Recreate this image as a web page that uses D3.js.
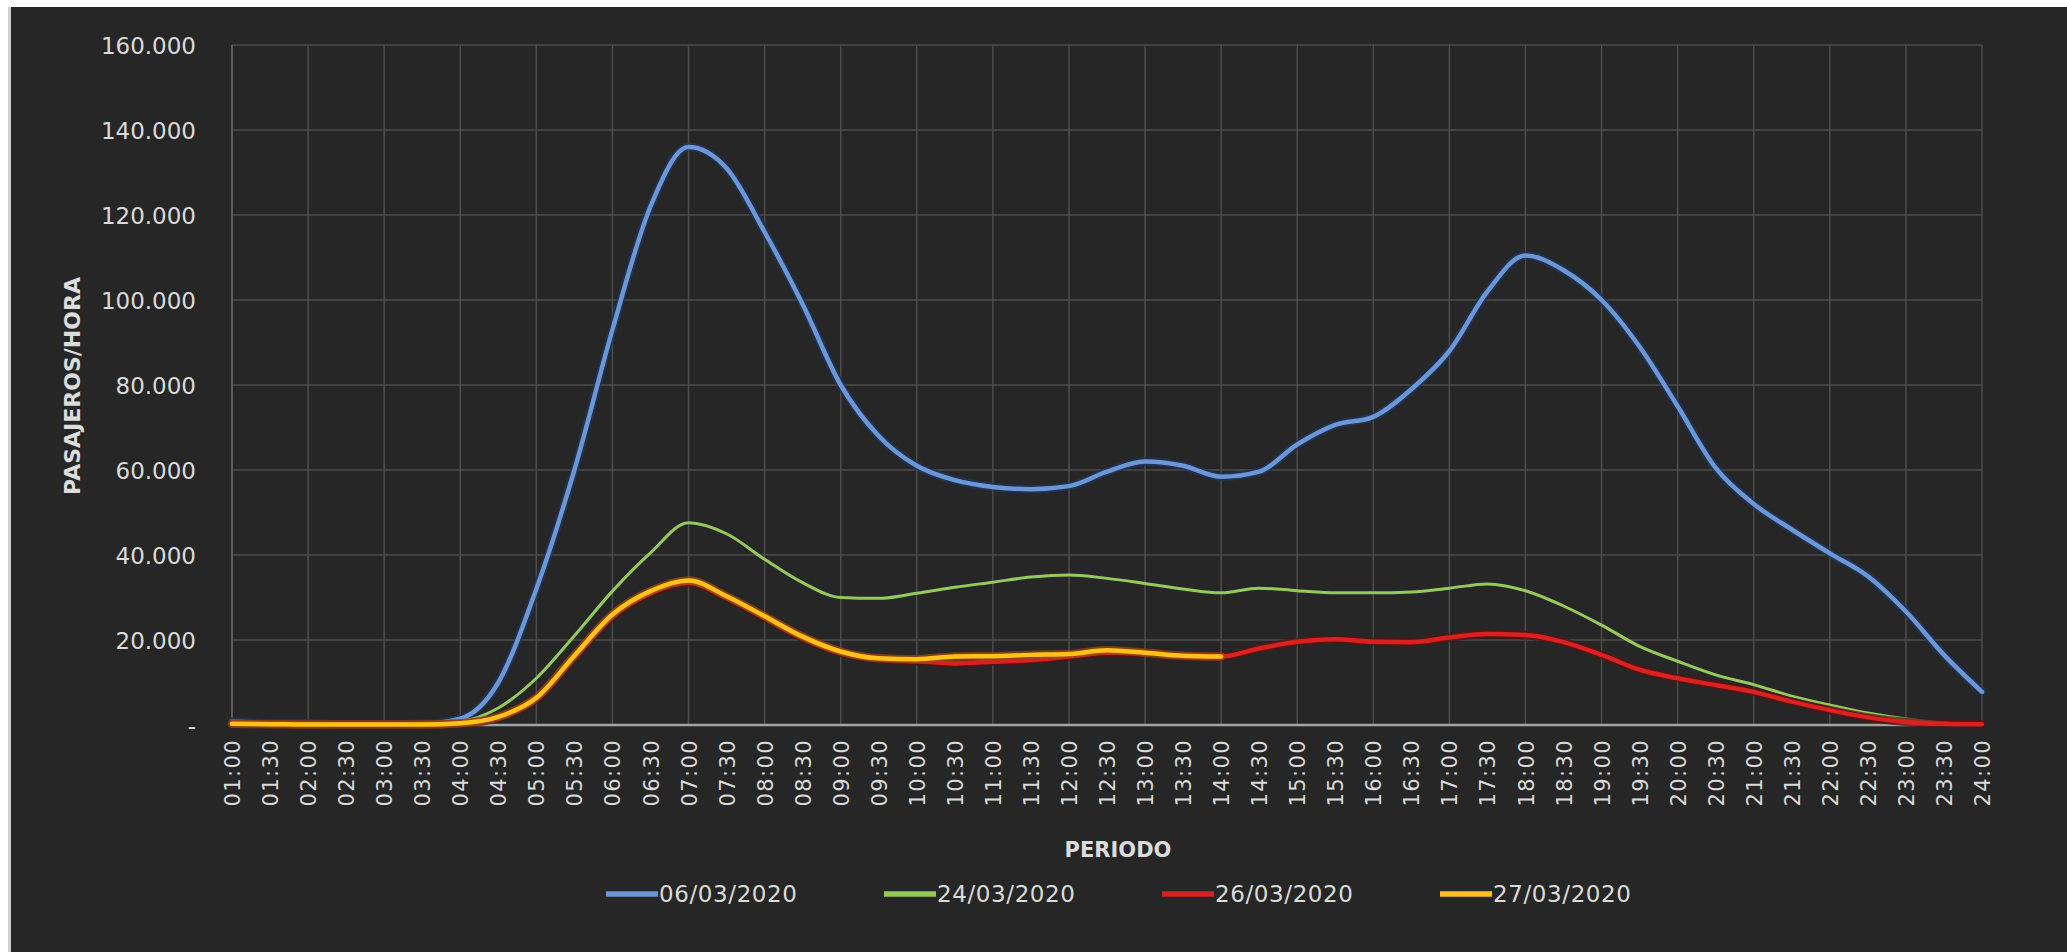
<!DOCTYPE html>
<html>
<head>
<meta charset="utf-8">
<script src="https://cdn.jsdelivr.net/npm/d3@7/dist/d3.min.js"></script>
<style>
  html, body { margin: 0; padding: 0; background: #ffffff; }
  svg { display: block; }
</style>
</head>
<body>
<svg id="chart" width="2067" height="952"></svg>
<script>
// Half-hour periods of the day
const periodos = [
  "01:00","01:30","02:00","02:30","03:00","03:30","04:00","04:30",
  "05:00","05:30","06:00","06:30","07:00","07:30","08:00","08:30",
  "09:00","09:30","10:00","10:30","11:00","11:30","12:00","12:30",
  "13:00","13:30","14:00","14:30","15:00","15:30","16:00","16:30",
  "17:00","17:30","18:00","18:30","19:00","19:30","20:00","20:30",
  "21:00","21:30","22:00","22:30","23:00","23:30","24:00"
];

// Passengers per hour for each day
const pax06_03 = [
  800, 500, 400, 200, 200, 300, 1500, 10000,
  32000, 60000, 93000, 122000, 136000, 131000, 116000, 99000,
  80000, 68000, 61000, 57600, 56000, 55500, 56200, 59600,
  62000, 61000, 58400, 59600, 66000, 70600, 72500, 79000,
  88000, 102000, 110500, 107000, 100000, 89000, 75000, 60500,
  52000, 46000, 40400, 35000, 26700, 16500, 7800
];
const pax24_03 = [
  500, 300, 200, 100, 100, 200, 800, 4000,
  11000, 21000, 31500, 40500, 47600, 45000, 39000, 33500,
  30000, 29800, 31000, 32400, 33600, 34800, 35300, 34500,
  33300, 32000, 31100, 32200, 31600, 31100, 31100, 31300,
  32200, 33200, 31600, 28000, 23500, 18500, 15000, 11800,
  9500, 6800, 4700, 2800, 1400, 500, 200
];
const pax26_03 = [
  300, 200, 100, 100, 100, 100, 300, 1800,
  6200, 16000, 25500, 31000, 33500, 30000, 25300, 20500,
  17000, 15500, 15000, 14500, 14900, 15300, 16100, 17000,
  17000, 16200, 16100, 18000, 19600, 20200, 19600, 19500,
  20600, 21400, 21200, 19500, 16500, 13000, 11000, 9400,
  7800, 5500, 3500, 1800, 700, 300, 200
];
const pax27_03 = [
  300, 200, 100, 100, 100, 100, 400, 1900,
  6400, 16300, 26000, 31500, 34000, 30300, 25600, 20800,
  17300, 15700, 15500, 16100, 16200, 16500, 16700, 17600,
  17000, 16300, 16100
];

const yTicks = [0, 20000, 40000, 60000, 80000, 100000, 120000, 140000, 160000];

const seriesNames = ["06/03/2020", "24/03/2020", "26/03/2020", "27/03/2020"];
const seriesValues = [pax06_03, pax24_03, pax26_03, pax27_03];
const seriesColors = ["#6c96d5", "#96c95c", "#d92121", "#ffc21c"];
const seriesHalo = ["#1d3659", null, "#5c1010", "#9a4a08"];
const seriesWidths = [4.5, 3, 4.5, 4.5];

const svg = d3.select("#chart");
const W = 2067, H = 952;
const plot = { left: 232, right: 1982, top: 45, bottom: 725 };

// Dark chart area with thin white/grey page edge on top and left
svg.append("rect").attr("x", 0).attr("y", 0).attr("width", W).attr("height", H).attr("fill", "#ffffff");
svg.append("rect").attr("x", 8).attr("y", 7).attr("width", W - 8).attr("height", H - 7).attr("fill", "#cfcfcf");
svg.append("rect").attr("x", 11).attr("y", 7).attr("width", W - 11).attr("height", H - 7).attr("fill", "#262626");

const x = d3.scalePoint().domain(periodos).range([plot.left, plot.right]);
const y = d3.scaleLinear().domain([0, 160000]).range([plot.bottom, plot.top]);

const es = d3.formatLocale({ decimal: ",", thousands: ".", grouping: [3], currency: ["", " €"] });
const fmt = es.format(",.0f");
const tickFmt = v => v === 0 ? "-" : fmt(v);

// Horizontal gridlines
svg.append("g")
  .selectAll("line")
  .data(yTicks.filter(v => v > 0))
  .join("line")
  .attr("x1", plot.left).attr("x2", plot.right)
  .attr("y1", d => y(d)).attr("y2", d => y(d))
  .attr("stroke", "#4d4d4d").attr("stroke-width", 1.5);

// Vertical gridlines on the hour
svg.append("g")
  .selectAll("line")
  .data(periodos.filter(p => p.endsWith(":00")))
  .join("line")
  .attr("x1", d => x(d)).attr("x2", d => x(d))
  .attr("y1", plot.top).attr("y2", plot.bottom)
  .attr("stroke", d => d === periodos[0] ? "#707070" : "#4d4d4d")
  .attr("stroke-width", 1.5);

// Y axis labels
const yAxis = d3.axisLeft(y).tickValues(yTicks).tickFormat(tickFmt).tickSize(0).tickPadding(0);
const gy = svg.append("g").attr("transform", `translate(196,0)`).call(yAxis);
gy.select(".domain").remove();
gy.selectAll("text")
  .attr("fill", "#dadada")
  .attr("font-family", "DejaVu Sans, sans-serif")
  .attr("font-size", 23)
  .attr("dy", "0.36em");

// X axis line and labels
svg.append("line")
  .attr("x1", plot.left).attr("x2", plot.right)
  .attr("y1", plot.bottom).attr("y2", plot.bottom)
  .attr("stroke", "#a3a3a3").attr("stroke-width", 2.5);

const xAxis = d3.axisBottom(x).tickSize(0).tickPadding(0);
const gx = svg.append("g").attr("transform", `translate(0,${plot.bottom})`).call(xAxis);
gx.select(".domain").remove();
gx.selectAll("text")
  .attr("fill", "#dadada")
  .attr("font-family", "DejaVu Sans, sans-serif")
  .attr("font-size", 21)
  .attr("letter-spacing", 1.4)
  .attr("text-anchor", "end")
  .attr("transform", "rotate(-90)")
  .attr("x", -14)
  .attr("y", 0)
  .attr("dy", "0.36em");

// Axis titles
svg.append("text")
  .attr("transform", "translate(80,386) rotate(-90)")
  .attr("text-anchor", "middle")
  .attr("fill", "#dcdcdc")
  .attr("font-family", "DejaVu Sans, sans-serif")
  .attr("font-weight", "bold")
  .attr("font-size", 22)
  .text("PASAJEROS/HORA");

svg.append("text")
  .attr("x", 1118).attr("y", 857)
  .attr("text-anchor", "middle")
  .attr("fill", "#dcdcdc")
  .attr("font-family", "DejaVu Sans, sans-serif")
  .attr("font-weight", "bold")
  .attr("font-size", 21)
  .text("PERIODO");

// Series lines
const line = d3.line()
  .defined(d => d != null)
  .x((d, i) => x(periodos[i]))
  .y(d => y(d))
  .curve(d3.curveMonotoneX);

const gLines = svg.append("g");
seriesValues.forEach((vals, i) => {
  if (seriesHalo[i]) {
    gLines.append("path")
      .attr("d", line(vals))
      .attr("fill", "none")
      .attr("stroke", seriesHalo[i])
      .attr("stroke-opacity", 0.75)
      .attr("stroke-width", seriesWidths[i] + 4)
      .attr("stroke-linejoin", "round")
      .attr("stroke-linecap", "round");
  }
  gLines.append("path")
    .attr("d", line(vals))
    .attr("fill", "none")
    .attr("stroke", seriesColors[i])
    .attr("stroke-width", seriesWidths[i])
    .attr("stroke-linejoin", "round")
    .attr("stroke-linecap", "round");
});

// Legend
const legendX = d3.scaleBand().domain(seriesNames).range([606, 606 + 4 * 278]);
const legendY = 894;
const lg = svg.append("g").selectAll("g").data(seriesNames).join("g")
  .attr("transform", d => `translate(${legendX(d)},${legendY})`);
lg.append("line")
  .attr("x1", 0).attr("x2", 52).attr("y1", 0).attr("y2", 0)
  .attr("stroke", (d, i) => seriesColors[i])
  .attr("stroke-width", 5.5);
lg.append("text")
  .attr("x", 53).attr("y", 0).attr("dy", "0.36em")
  .attr("fill", "#dadada")
  .attr("font-family", "DejaVu Sans, sans-serif")
  .attr("font-size", 23)
  .attr("letter-spacing", 0.6)
  .text(d => d);
</script>
</body>
</html>
